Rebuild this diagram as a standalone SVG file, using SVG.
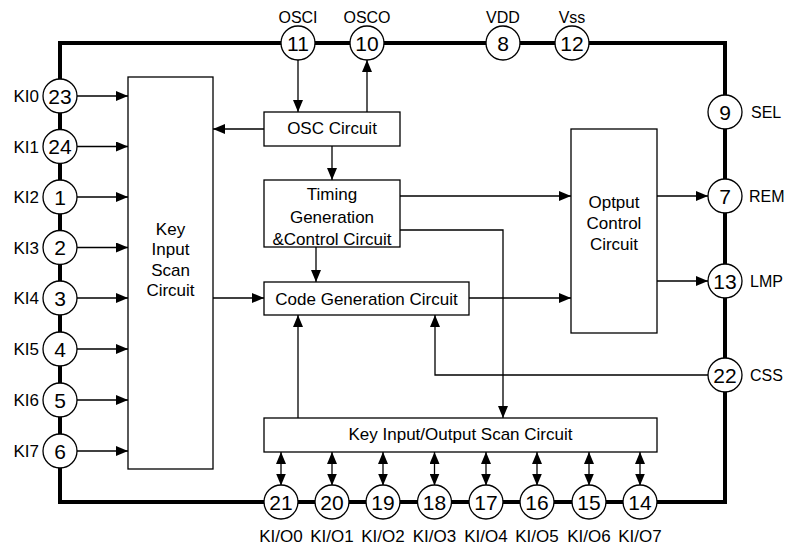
<svg xmlns="http://www.w3.org/2000/svg" width="788" height="549" viewBox="0 0 788 549">
<style>
text{font-family:"Liberation Sans",Arial,sans-serif;fill:#000}
.lbl{font-size:16px}
.pl{font-size:17px}
.num{font-size:21px;text-anchor:middle}
.bt{font-size:17px;text-anchor:middle}
.box{fill:#fff;stroke:#000;stroke-width:1.3}
.pin{fill:#fff;stroke:#000;stroke-width:1.3}
.c{fill:none;stroke:#000;stroke-width:1.3}
.a{marker-end:url(#ah)}
.b{marker-end:url(#ah);marker-start:url(#ahs)}
</style>
<defs>
<marker id="ah" markerUnits="userSpaceOnUse" markerWidth="12" markerHeight="10" refX="12" refY="5" orient="auto"><path d="M0,0 L12,5 L0,10 z" fill="#000"/></marker>
<marker id="ahs" markerUnits="userSpaceOnUse" markerWidth="12" markerHeight="10" refX="12" refY="5" orient="auto-start-reverse"><path d="M0,0 L12,5 L0,10 z" fill="#000"/></marker>
</defs>
<rect x="0" y="0" width="788" height="549" fill="#fff"/>
<g id="frame"><path d="M60,43 H725 V502 H60 Z" fill="none" stroke="#000" stroke-width="4"/></g>

<g id="connectors">
<line class="c a" x1="77" y1="96" x2="128" y2="96"/>
<line class="c a" x1="77" y1="146.5" x2="128" y2="146.5"/>
<line class="c a" x1="77" y1="197" x2="128" y2="197"/>
<line class="c a" x1="77" y1="247.5" x2="128" y2="247.5"/>
<line class="c a" x1="77" y1="298" x2="128" y2="298"/>
<line class="c a" x1="77" y1="349" x2="128" y2="349"/>
<line class="c a" x1="77" y1="400" x2="128" y2="400"/>
<line class="c a" x1="77" y1="451" x2="128" y2="451"/>
<line class="c a" x1="298" y1="60" x2="298" y2="112"/>
<line class="c a" x1="367" y1="112" x2="367" y2="60"/>
<line class="c a" x1="264" y1="129" x2="213" y2="129"/>
<line class="c a" x1="332" y1="146" x2="332" y2="180"/>
<line class="c a" x1="400" y1="196" x2="571" y2="196"/>
<polyline class="c a" points="400,230 503,230 503,418"/>
<line class="c a" x1="316" y1="247" x2="316" y2="282"/>
<line class="c a" x1="213" y1="298" x2="264" y2="298"/>
<line class="c a" x1="469" y1="298" x2="571" y2="298"/>
<line class="c a" x1="657" y1="196" x2="708" y2="196"/>
<line class="c a" x1="657" y1="281" x2="708" y2="281"/>
<polyline class="c a" points="708,375 435,375 435,315"/>
<line class="c a" x1="298" y1="418" x2="298" y2="315"/>
<line class="c b" x1="281" y1="452" x2="281" y2="485.5"/>
<line class="c b" x1="332" y1="452" x2="332" y2="485.5"/>
<line class="c b" x1="383" y1="452" x2="383" y2="485.5"/>
<line class="c b" x1="434.5" y1="452" x2="434.5" y2="485.5"/>
<line class="c b" x1="486" y1="452" x2="486" y2="485.5"/>
<line class="c b" x1="537" y1="452" x2="537" y2="485.5"/>
<line class="c b" x1="589" y1="452" x2="589" y2="485.5"/>
<line class="c b" x1="640" y1="452" x2="640" y2="485.5"/>
</g>

<g id="key-input-scan"><rect class="box" x="128" y="77" width="85" height="392"/>
<text class="bt" x="170.5" y="235">Key</text><text class="bt" x="170.5" y="255">Input</text><text class="bt" x="170.5" y="275.5">Scan</text><text class="bt" x="170.5" y="295.5">Circuit</text></g>
<g id="osc"><rect class="box" x="264" y="112" width="136" height="34"/><text class="bt" x="332" y="134">OSC Circuit</text></g>
<g id="timing"><rect class="box" x="264" y="180" width="136" height="67"/>
<text class="bt" x="332" y="199.5">Timing</text><text class="bt" x="332" y="222.5">Generation</text><text class="bt" x="332" y="245">&amp;Control Circuit</text></g>
<g id="code-gen"><rect class="box" x="264" y="282" width="205" height="33"/><text class="bt" x="366.5" y="304.5">Code Generation Circuit</text></g>
<g id="optput"><rect class="box" x="571" y="129" width="86" height="204"/>
<text class="bt" x="614" y="208">Optput</text><text class="bt" x="614" y="229">Control</text><text class="bt" x="614" y="249.5">Circuit</text></g>
<g id="key-io-scan"><rect class="box" x="264" y="418" width="393" height="34"/><text class="bt" x="460.5" y="440">Key Input/Output Scan Circuit</text></g>

<g id="pin23"><circle class="pin" cx="60" cy="96" r="17"/><text class="num" x="60" y="103.5">23</text><text class="pl" x="39" y="102" text-anchor="end">KI0</text></g>
<g id="pin24"><circle class="pin" cx="60" cy="146.5" r="17"/><text class="num" x="60" y="154">24</text><text class="pl" x="39" y="152.5" text-anchor="end">KI1</text></g>
<g id="pin1"><circle class="pin" cx="60" cy="197" r="17"/><text class="num" x="60" y="204.5">1</text><text class="pl" x="39" y="203" text-anchor="end">KI2</text></g>
<g id="pin2"><circle class="pin" cx="60" cy="247.5" r="17"/><text class="num" x="60" y="255">2</text><text class="pl" x="39" y="253.5" text-anchor="end">KI3</text></g>
<g id="pin3"><circle class="pin" cx="60" cy="298" r="17"/><text class="num" x="60" y="305.5">3</text><text class="pl" x="39" y="304" text-anchor="end">KI4</text></g>
<g id="pin4"><circle class="pin" cx="60" cy="349" r="17"/><text class="num" x="60" y="356.5">4</text><text class="pl" x="39" y="355" text-anchor="end">KI5</text></g>
<g id="pin5"><circle class="pin" cx="60" cy="400" r="17"/><text class="num" x="60" y="407.5">5</text><text class="pl" x="39" y="406" text-anchor="end">KI6</text></g>
<g id="pin6"><circle class="pin" cx="60" cy="451" r="17"/><text class="num" x="60" y="458.5">6</text><text class="pl" x="39" y="457" text-anchor="end">KI7</text></g>

<g id="pin11"><circle class="pin" cx="298" cy="43" r="17"/><text class="num" x="298" y="50.5">11</text><text class="lbl" x="298" y="23" text-anchor="middle">OSCI</text></g>
<g id="pin10"><circle class="pin" cx="367" cy="43" r="17"/><text class="num" x="367" y="50.5">10</text><text class="lbl" x="367" y="23" text-anchor="middle">OSCO</text></g>
<g id="pin8"><circle class="pin" cx="503" cy="43" r="17"/><text class="num" x="503" y="50.5">8</text><text class="lbl" x="503" y="23" text-anchor="middle">VDD</text></g>
<g id="pin12"><circle class="pin" cx="572" cy="43" r="17"/><text class="num" x="572" y="50.5">12</text><text class="lbl" x="572" y="23" text-anchor="middle">Vss</text></g>

<g id="pin9"><circle class="pin" cx="725" cy="112" r="17"/><text class="num" x="725" y="119.5">9</text><text class="lbl" x="751" y="118">SEL</text></g>
<g id="pin7"><circle class="pin" cx="725" cy="196" r="17"/><text class="num" x="725" y="203.5">7</text><text class="lbl" x="749" y="202">REM</text></g>
<g id="pin13"><circle class="pin" cx="725" cy="281" r="17"/><text class="num" x="725" y="288.5">13</text><text class="lbl" x="750" y="287">LMP</text></g>
<g id="pin22"><circle class="pin" cx="725" cy="375" r="17"/><text class="num" x="725" y="382.5">22</text><text class="lbl" x="750" y="381">CSS</text></g>

<g id="pin21"><circle class="pin" cx="281" cy="502" r="17"/><text class="num" x="281" y="509.5">21</text><text class="pl" x="281" y="542" text-anchor="middle">KI/O0</text></g>
<g id="pin20"><circle class="pin" cx="332" cy="502" r="17"/><text class="num" x="332" y="509.5">20</text><text class="pl" x="332" y="542" text-anchor="middle">KI/O1</text></g>
<g id="pin19"><circle class="pin" cx="383" cy="502" r="17"/><text class="num" x="383" y="509.5">19</text><text class="pl" x="383" y="542" text-anchor="middle">KI/O2</text></g>
<g id="pin18"><circle class="pin" cx="434.5" cy="502" r="17"/><text class="num" x="434.5" y="509.5">18</text><text class="pl" x="434.5" y="542" text-anchor="middle">KI/O3</text></g>
<g id="pin17"><circle class="pin" cx="486" cy="502" r="17"/><text class="num" x="486" y="509.5">17</text><text class="pl" x="486" y="542" text-anchor="middle">KI/O4</text></g>
<g id="pin16"><circle class="pin" cx="537" cy="502" r="17"/><text class="num" x="537" y="509.5">16</text><text class="pl" x="537" y="542" text-anchor="middle">KI/O5</text></g>
<g id="pin15"><circle class="pin" cx="589" cy="502" r="17"/><text class="num" x="589" y="509.5">15</text><text class="pl" x="589" y="542" text-anchor="middle">KI/O6</text></g>
<g id="pin14"><circle class="pin" cx="640" cy="502" r="17"/><text class="num" x="640" y="509.5">14</text><text class="pl" x="640" y="542" text-anchor="middle">KI/O7</text></g>
</svg>
